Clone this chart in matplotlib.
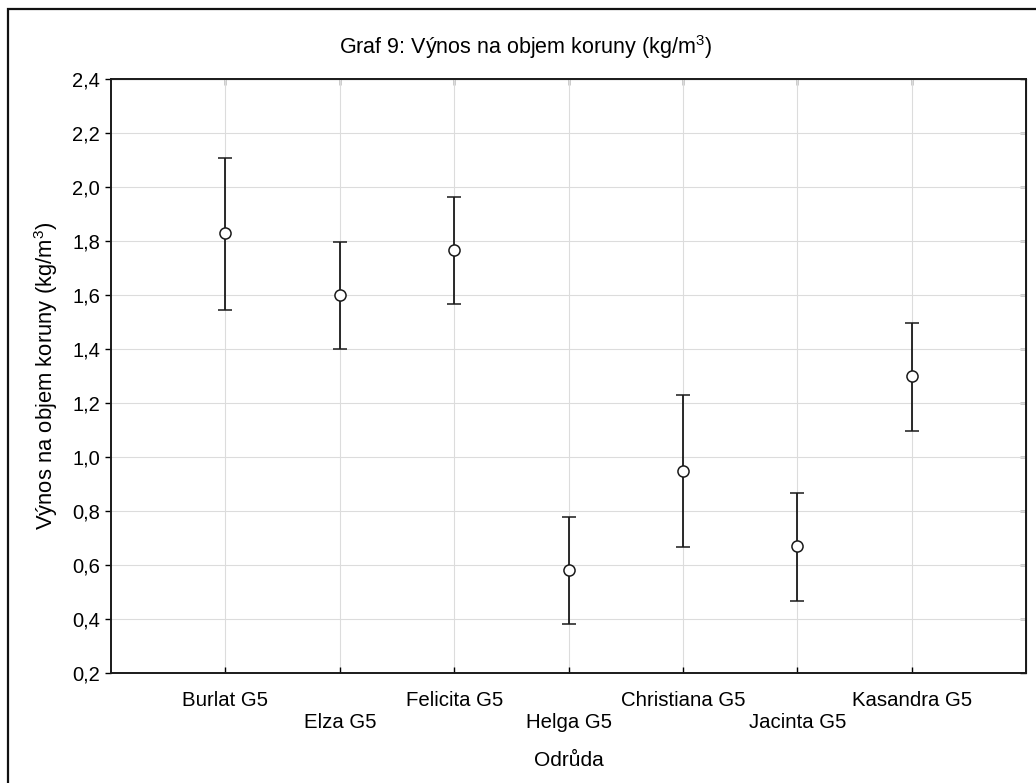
import numpy as np
import matplotlib
matplotlib.use('Agg')
import matplotlib.pyplot as plt
from matplotlib.patches import Rectangle

# data
odrudy = ['Burlat G5', 'Elza G5', 'Felicita G5', 'Helga G5', 'Christiana G5', 'Jacinta G5', 'Kasandra G5']
prumer = [1.831, 1.600, 1.768, 0.582, 0.949, 0.672, 1.300]
dolni = [1.546, 1.400, 1.567, 0.380, 0.668, 0.468, 1.096]
horni = [2.108, 1.797, 1.964, 0.778, 1.231, 0.866, 1.496]
y_ticks = [0.2, 0.4, 0.6, 0.8, 1.0, 1.2, 1.4, 1.6, 1.8, 2.0, 2.2, 2.4]

plt.rcParams['font.family'] = ['Liberation Sans', 'DejaVu Sans']
plt.rcParams['mathtext.fontset'] = 'custom'
plt.rcParams['mathtext.rm'] = 'Liberation Sans'
plt.rcParams['mathtext.it'] = 'Liberation Sans'

W, H = 1036, 783
fig = plt.figure(figsize=(W / 100, H / 100), dpi=100)
ax = fig.add_axes([111 / W, 1 - 673 / H, (1026 - 111) / W, (673 - 79) / H])

x = np.arange(1, len(odrudy) + 1)
prumer = np.array(prumer)
yerr = [prumer - np.array(dolni), np.array(horni) - prumer]
ax.errorbar(x, prumer, yerr=yerr, fmt='o', color='#1a1a1a', mfc='white', mec='#1a1a1a',
            markersize=8, markeredgewidth=1.1, elinewidth=1.3, capsize=5, capthick=1.3, zorder=3)

ax.set_xlim(0, len(odrudy) + 1)
ax.set_ylim(0.2, 2.4)
ax.set_yticks(y_ticks)
ax.set_yticklabels([f'{t:.1f}'.replace('.', ',') for t in y_ticks], fontsize=14.5)
ax.set_xticks(x)
# staggered category labels as in the original
ax.set_xticklabels([lab if i % 2 == 0 else '\n' + lab for i, lab in enumerate(odrudy)], fontsize=14.7)

ax.grid(True, color='#dcdcdc', linewidth=0.8)
ax.set_axisbelow(True)
for sp in ax.spines.values():
    sp.set_linewidth(1.4)
    sp.set_color('#1a1a1a')

ax.tick_params(axis='y', direction='out', length=4, width=1, pad=4)
ax.tick_params(axis='x', direction='in', length=4, width=1, pad=13)

# ticks on top and right point inward
sec_x = ax.secondary_xaxis('top')
sec_x.set_xticks(x)
sec_x.tick_params(direction='in', length=4, width=1, labeltop=False)
sec_y = ax.secondary_yaxis('right')
sec_y.set_yticks(y_ticks)
sec_y.tick_params(direction='in', length=4, width=1, labelright=False)

ax.set_ylabel('Výnos na objem koruny (kg/m$^3$)', fontsize=15.8, labelpad=9)
ax.set_xlabel('Odrůda', fontsize=15, labelpad=14)

fig.text(526 / W, 1 - 47 / H, 'Graf 9: Výnos na objem koruny (kg/m$^3$)', fontsize=15.5,
         ha='center', va='center')

# outer frame of the picture
fig.patches.append(Rectangle((8 / W, -0.1), 1.2, 1 - 9 / H + 0.1, transform=fig.transFigure,
                             fill=False, edgecolor='#111111', linewidth=1.6))

fig.savefig('out.png', dpi=100)
